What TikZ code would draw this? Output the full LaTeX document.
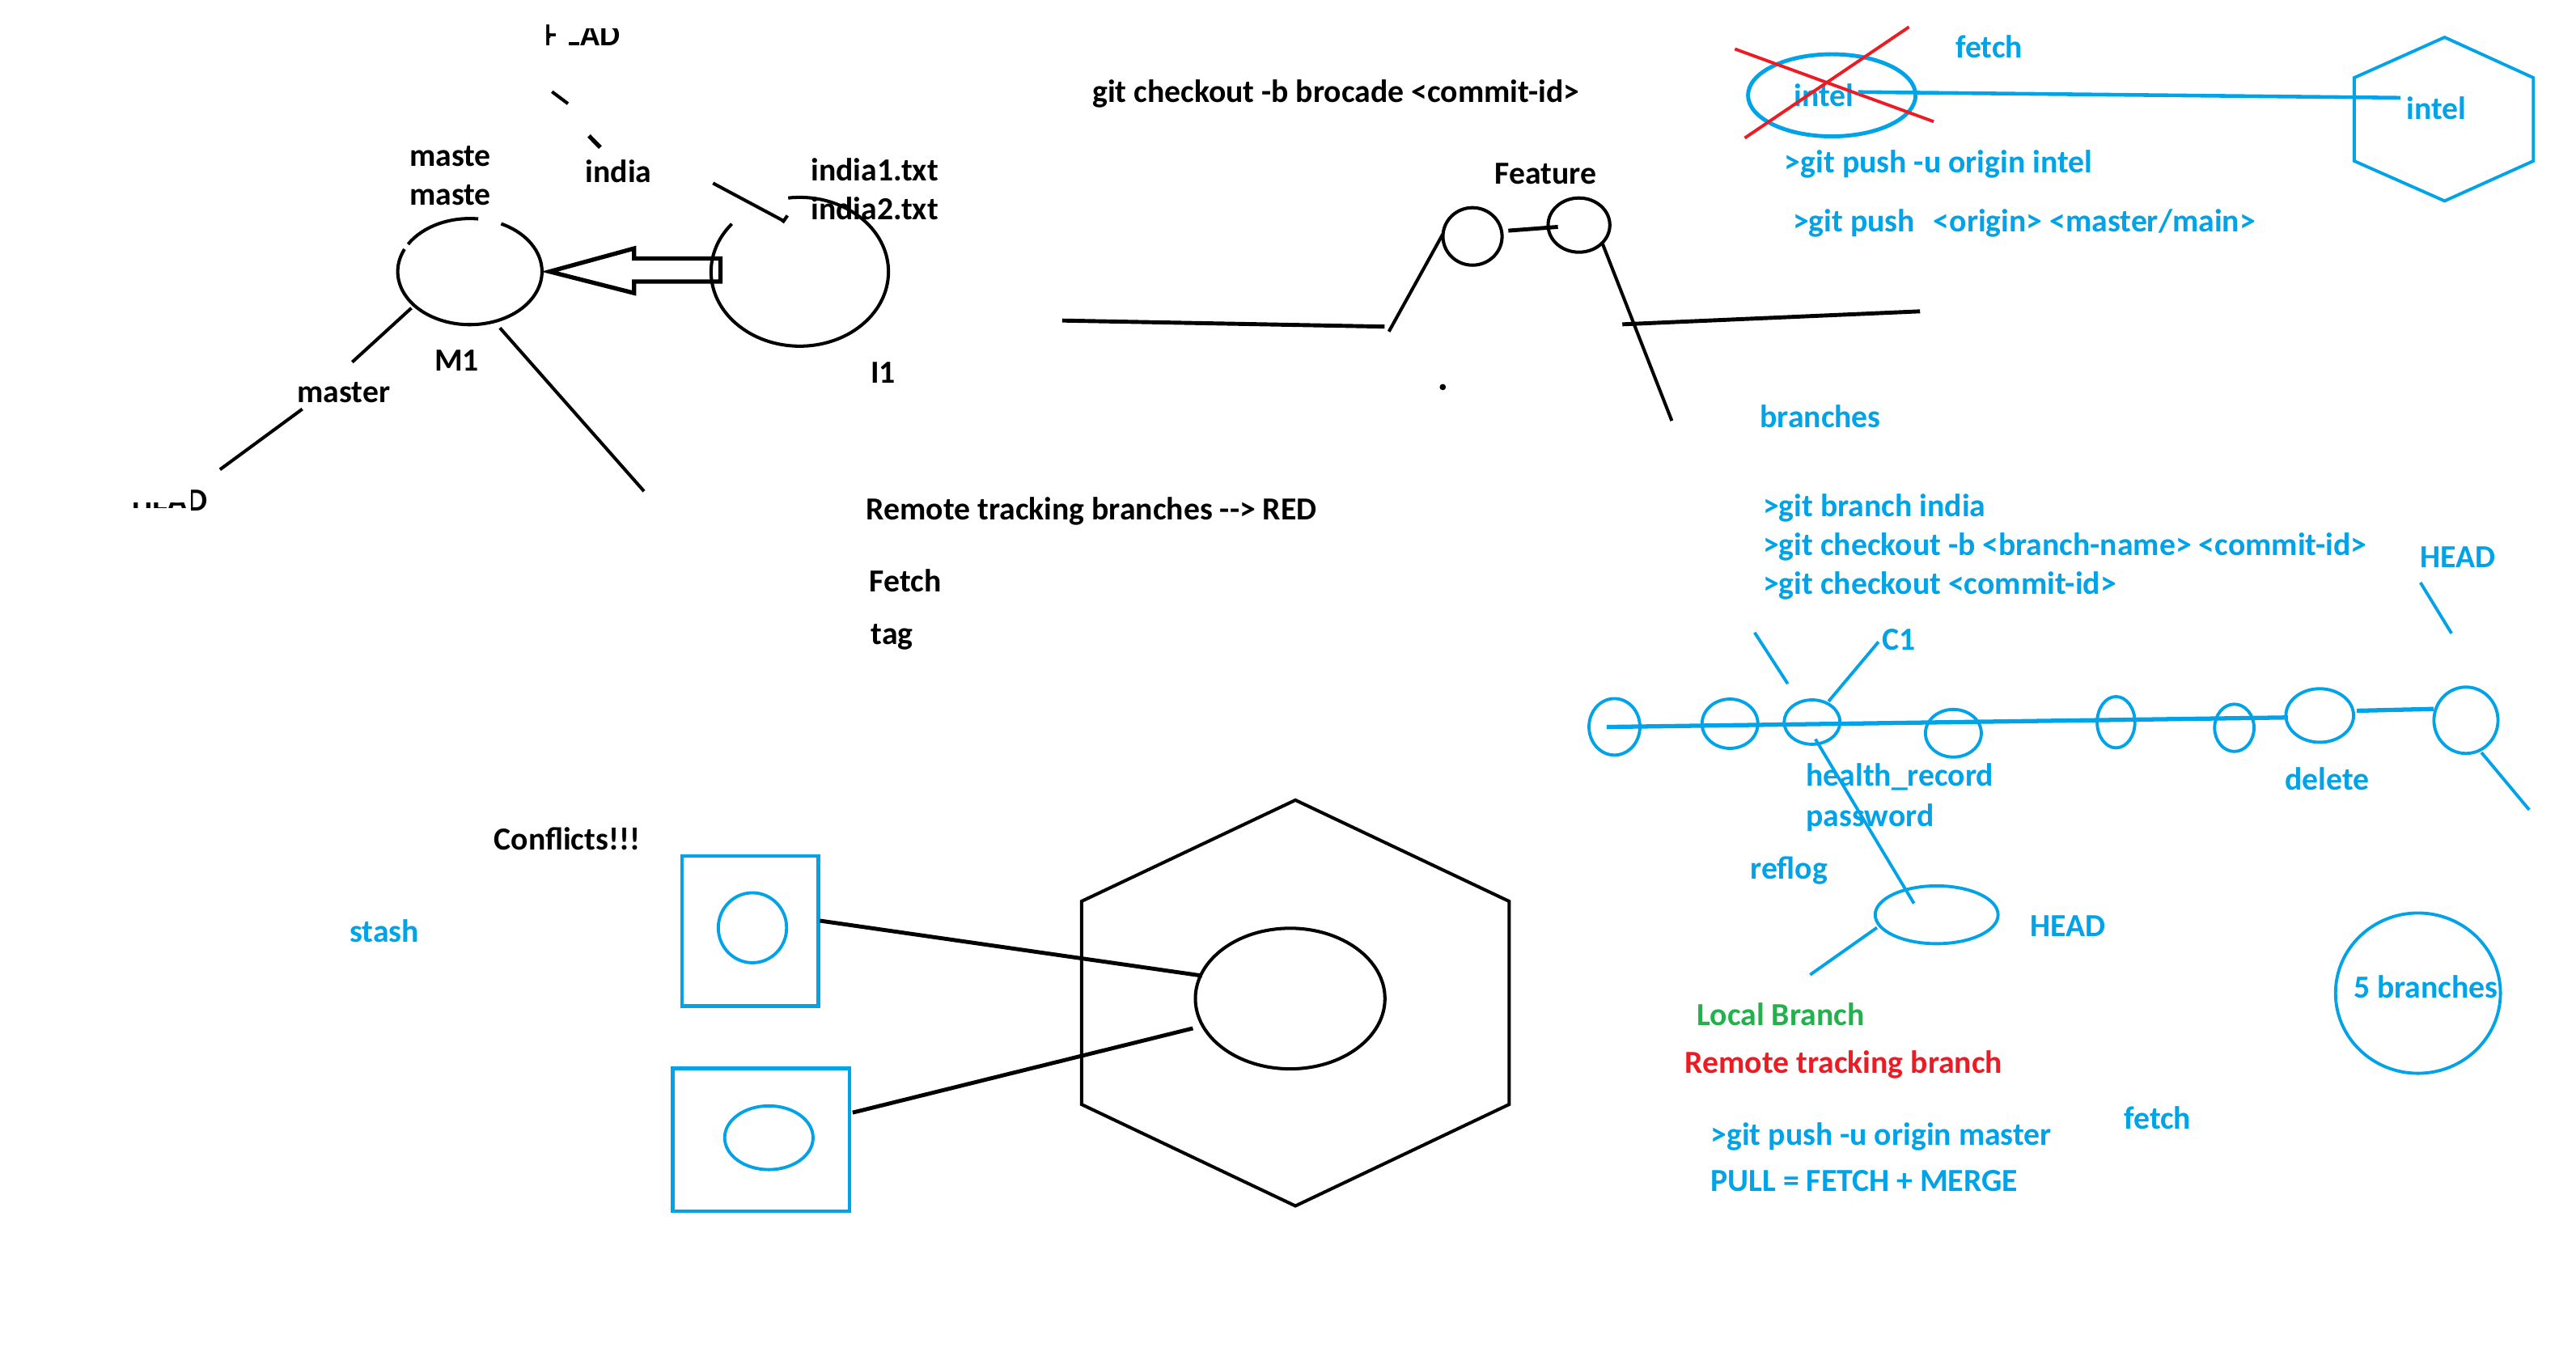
\documentclass[tikz,border=0pt]{standalone}
\usepackage{fontspec}
\setmainfont{Carlito}
\usetikzlibrary{shapes.geometric}
\definecolor{pblue}{RGB}{0,162,232}
\definecolor{pred}{RGB}{237,28,36}
\definecolor{pgreen}{RGB}{34,177,76}
\begin{document}
\begin{tikzpicture}[x=0.020306cm,y=-0.020306cm,
  txt0/.style={font=\bfseries\fontsize{11.3}{13.5}\selectfont, inner sep=0pt, anchor=base west},
  txt/.style={txt0, yshift=-0.035cm},
  btxt/.style={txt, text=pblue},
  bk/.style={draw=black, line width=1.15pt},
  bl/.style={draw=pblue, line width=1.1pt},
  ov/.style args={#1/#2}{ellipse, inner sep=0pt, outer sep=0pt, minimum width=#1cm, minimum height=#2cm},
  box/.style args={#1/#2}{rectangle, inner sep=0pt, outer sep=0pt, minimum width=#1cm, minimum height=#2cm}]
\fill[white] (0,0) rectangle (1568,824.9);
\useasboundingbox (0,0) rectangle (1568,824.9);

% ---------------- top left ----------------
\node[txt0] (headtop) at (331.5,27.9) {HEAD};
\fill[white] (334.6,13) rectangle (338.5,20.3);
\fill[white] (334.6,23) rectangle (338.5,29);
\fill[white] (338.5,13) rectangle (352.8,25.6);
\fill[white] (338.5,25.6) rectangle (346,29);
\fill[white] (352.8,13) rectangle (378,17.4);
\draw[bk] (336,55.8) coordinate (f1a) -- (345.7,63.1) coordinate (f1b);
\draw[bk, line width=1.5pt] (358.5,82.7) coordinate (f2a) -- (365.4,89.7) coordinate (f2b);

\node[txt] (maste1) at (249,99.6) {maste};
\node[txt] (maste2) at (249,123) {maste};
\node[txt] (india) at (356,109.3) {india};
\node[txt] (india1) at (493.3,108.3) {india1.txt};
\node[txt] (india2) at (493.3,131.9) {india2.txt};

% M1 circle (with small gaps)
\coordinate (m1) at (286,165.3);
\draw[bk] (m1) ++(83.3:0.8914cm and 0.6559cm) arc[start angle=83.3, end angle=149, x radius=0.8914cm, y radius=0.6559cm];
\draw[bk] (m1) ++(155:0.8914cm and 0.6559cm) arc[start angle=155, end angle=424.3, x radius=0.8914cm, y radius=0.6559cm];
\node[txt] (m1lbl) at (264.2,224.3) {M1};

% I1 circle (gap at top left)
\coordinate (i1) at (486.8,165.4);
\draw[bk] (i1) ++(140:1.0965cm and 0.9199cm) arc[start angle=140, end angle=457.5, x radius=1.0965cm, y radius=0.9199cm];
\node[txt] (i1lbl) at (529.6,231.3) {I1};

% hollow arrow I1 -> M1
\draw[bk, line width=1.5pt] (334.5,165.3) coordinate (arrtip) -- (386,151.2) -- (386,157.3)
  -- (438.5,157.3) coordinate (arrtail) -- (438.5,171.4) -- (386,171.4) -- (386,178.4) -- cycle;

\draw[bk] (434,111.5) coordinate (il1) -- (476.5,134.2) coordinate (il2);
\draw[bk] (476.3,135.5) -- (479.3,131.2);

\node[txt] (master) at (180.6,243.4) {master};
\draw[bk] (250.4,187.5) coordinate (ml1) -- (214.4,220.4) coordinate (ml2);
\draw[bk] (184,249) coordinate (hl1) -- (133.9,285.8) coordinate (hl2);
\node[txt0] (headbot) at (80.3,311) {HEAD};
\fill[white] (79,296) rectangle (113.6,305.6);
\fill[white] (79,309.2) rectangle (113.6,313);
\fill[white] (113.6,296) rectangle (116.3,313);
\draw[bk] (304.3,199.6) coordinate (dl1) -- (392,299) coordinate (dl2);

% ---------------- middle top ----------------
\node[txt] (brocade) at (664.6,60.5) {git checkout -b brocade <commit-id>};
\node[txt] (feature) at (909.5,110.5) {Feature};
\node[bk, ov=0.7310/0.7107] (fa) at (896.3,143.9) {};
\node[bk, ov=0.7635/0.6701] (fb) at (961.1,137) {};
\draw[bk, line width=1.4pt] (646.5,195.1) coordinate (ma1) -- (842.8,198.8) coordinate (ma2);
\draw[bk] (845.4,201.8) coordinate (mb1) -- (878.2,142.5) coordinate (mb2);
\draw[bk, line width=1.4pt] (918.1,140.4) coordinate (mc1) -- (948.3,138.1) coordinate (mc2);
\draw[bk] (975.4,148.2) coordinate (md1) -- (1017.6,256.1) coordinate (md2);
\draw[bk, line width=1.4pt] (987.5,197.4) coordinate (me1) -- (1168.7,189.5) coordinate (me2);
\fill[black] (878.2,235.6) circle[radius=1.1pt];

\node[txt] (rtb) at (527,314.5) {Remote tracking branches -\kern0pt-\kern0pt> RED};
\node[txt] (fetchb) at (529,358.5) {Fetch};
\node[txt] (tag) at (530,390.5) {tag};

% ---------------- top right ----------------
\node[draw=pblue, line width=1.4pt, ov=2.0712/1.0153] (intelov) at (1115,58) {};
\node[btxt] (intel1) at (1091.6,63) {intel};
\draw[draw=pred, line width=1.1pt] (1056,29.8) coordinate (x1a) -- (1177,74) coordinate (x1b);
\draw[draw=pred, line width=1.1pt] (1062,84) coordinate (x2a) -- (1162,16.4) coordinate (x2b);
\node[btxt] (fetch1) at (1190,33.5) {fetch};
\draw[bl, line width=1.3pt] (1131,56) coordinate (il1a) -- (1461,59.5) coordinate (il1b);
\draw[bl] (1488,22.7) coordinate (h1) -- (1542,47.3) -- (1542,98) -- (1488,122.3) -- (1433,98) -- (1433,47.3) -- cycle;
\node[btxt] (intel2) at (1464.6,71) {intel};
\node[btxt] (pushintel) at (1086,103.5) {>git push -u origin intel};
\node[btxt] (push) at (1091,139.5) {>git push};
\node[btxt] (pushargs) at (1176.6,139.5) {<origin> <master/main>};
\node[btxt] (branches) at (1071,258.5) {branches};

% ---------------- middle right ----------------
\node[btxt] (cmd1) at (1072.8,312.5) {>git branch india};
\node[btxt] (cmd2) at (1072.8,336.3) {>git checkout -b <branch-name> <commit-id>};
\node[btxt] (cmd3) at (1072.8,360.1) {>git checkout <commit-id>};
\node[btxt] (headr) at (1473,343.7) {HEAD};
\draw[bl] (1473.3,354.6) coordinate (hr1) -- (1492.2,385.5) coordinate (hr2);
\node[btxt] (c1lbl) at (1145.5,393.8) {C1};
\draw[bl] (1068,385) coordinate (lc1) -- (1088.2,416.2) coordinate (lc2);
\draw[bl] (1113,426.9) coordinate (c1a) -- (1143.4,390.7) coordinate (c1b);

\draw[bl, line width=1.5pt] (978,442.5) coordinate (cl1) -- (1392.6,436.7) coordinate (cl2);
\draw[bl, line width=1.5pt] (1434.6,432.6) coordinate (cl3) -- (1481.4,431.5) coordinate (cl4);
\node[bl, ov=0.6295/0.6985] (k1) at (982.7,442.4) {};
\node[bl, ov=0.6904/0.6092] (k2) at (1053,440.5) {};
\node[bl, ov=0.6904/0.5483] (k3) at (1103,439.5) {};
\node[bl, ov=0.6904/0.5889] (k4) at (1189,446.3) {};
\node[bl, ov=0.4670/0.6335] (k5) at (1288,439.6) {};
\node[bl, ov=0.4873/0.5848] (k6) at (1360,443) {};
\node[bl, ov=0.8366/0.6620] (k7) at (1412,435.5) {};
\node[bl, ov=0.7919/0.8204] (k8) at (1501,438.4) {};
\draw[bl] (1510.4,458) coordinate (dr1) -- (1539.5,492.9) coordinate (dr2);

\node[btxt] (health) at (1099,476.7) {health\_record};
\node[btxt] (password) at (1099,501.3) {password};
\node[btxt] (delete) at (1390.6,479.2) {delete};
\draw[bl] (1105,449.9) coordinate (pl1) -- (1165,549.9) coordinate (pl2);

\node[btxt] (reflog) at (1065,533.2) {reflog};
\node[bl, ov=1.5189/0.7148] (headov) at (1178.8,556.8) {};
\node[btxt] (headl) at (1235.6,568.5) {HEAD};
\draw[bl] (1142.5,564.6) coordinate (hl3) -- (1101.8,593.3) coordinate (hl4);

\node[bl, ov=2.0387/1.9819] (fiveov) at (1471.8,604.5) {};
\node[txt0, text=pblue] (five) at (1432.3,607.5) {5 branches};

\node[txt, text=pgreen] (local) at (1032.7,622.6) {Local Branch};
\node[txt, text=pred] (remote) at (1025.4,651.3) {Remote tracking branch};
\node[btxt] (fetch2) at (1292.6,685.7) {fetch};
\node[btxt] (pushm) at (1041,695.5) {>git push -u origin master};
\node[btxt] (pull) at (1041,723.5) {PULL = FETCH + MERGE};

% ---------------- bottom ----------------
\node[txt] (conflicts) at (300.4,515.7) {Conflicts!!!};
\node[btxt] (stash) at (212.5,571.9) {stash};
\node[draw=pblue, line width=1.3pt, box=1.6834/1.8560] (r1) at (456.55,566.6) {};
\node[draw=pblue, line width=1.3pt, box=2.1849/1.7646] (r2) at (463.3,693.75) {};
\node[bl, ov=0.8447/0.8650] (e1) at (458,564.7) {};
\node[bl, ov=1.0925/0.7879] (e2) at (468,692.5) {};
\draw[bk] (788.5,487) coordinate (hx1) -- (918.6,548.6) -- (918.6,672.2) -- (788.5,734) -- (658.3,672.2) -- (658.3,548.6) -- cycle;
\node[bk, ov=2.3433/1.7382] (big) at (785.3,607.8) {};
\draw[bk, line width=1.4pt] (499,560.4) coordinate (s1a) -- (731.7,593.9) coordinate (s1b);
\draw[bk, line width=1.4pt] (519,677.2) coordinate (s2a) -- (726.1,625.9) coordinate (s2b);
\end{tikzpicture}
\end{document}
